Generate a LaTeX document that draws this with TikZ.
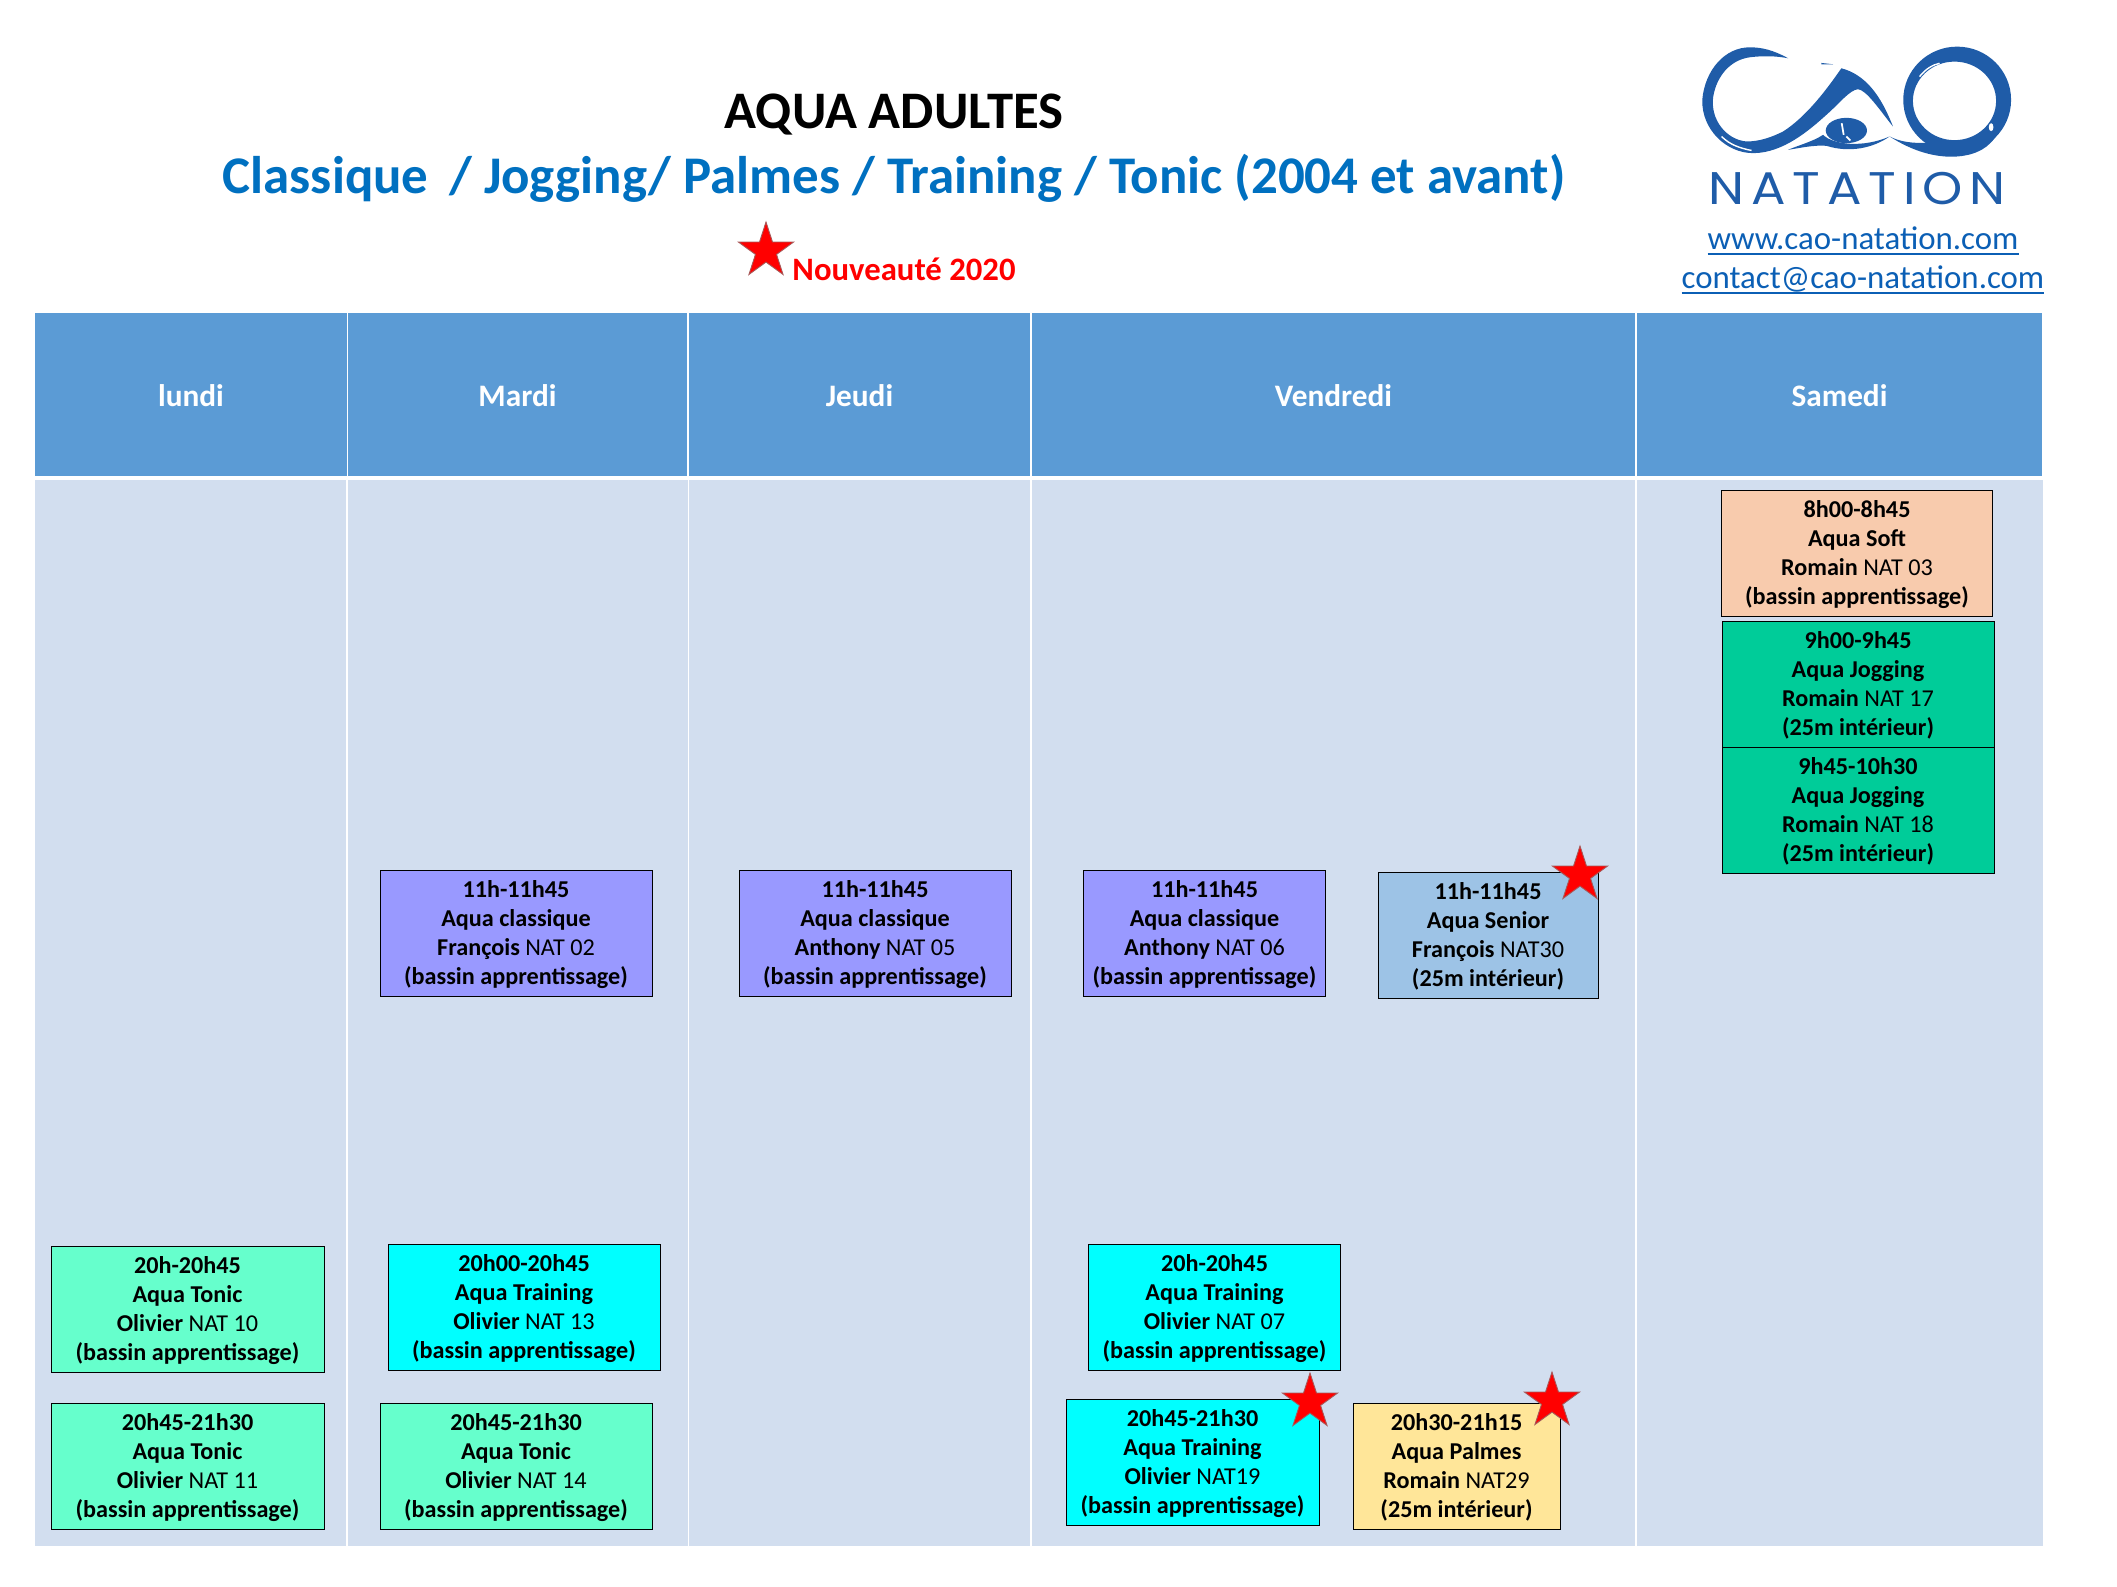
\documentclass[tikz,border=0pt]{standalone}
\usepackage{fontspec}
\setmainfont{Carlito}
\newfontfamily\logofont[LetterSpace=15,FakeStretch=1.12]{Poppins}
\usetikzlibrary{shapes.geometric}
\definecolor{headerblue}{HTML}{5B9BD5}
\definecolor{bodyblue}{HTML}{D2DEEF}
\definecolor{titleblue}{HTML}{0070C0}
\definecolor{linkblue}{HTML}{0B5FB5}
\definecolor{logoblue}{HTML}{1F5CA8}
\definecolor{mauvebox}{HTML}{9999FF}
\definecolor{aquabox}{HTML}{00FFFF}
\definecolor{mintbox}{HTML}{66FFCC}
\definecolor{greenbox}{HTML}{00CC99}
\definecolor{peachbox}{HTML}{F8CBAD}
\definecolor{seniorbox}{HTML}{9DC3E6}
\definecolor{yellowbox}{HTML}{FFE699}
\newcommand{\seance}[5]{\rule{0pt}{5.5pt}\textbf{#1}\\\textbf{#2}\\\textbf{#3} #4\\\textbf{#5}}
\tikzset{
    daycell/.style={fill=headerblue, text=white, inner sep=0pt, minimum height=1.63cm, font=\fontsize{8.9}{10}\selectfont\bfseries},
    seancebox/.style={draw=black, line width=0.25pt, align=center, inner sep=0pt, minimum height=1.26cm, font=\fontsize{6.88}{8.25}\selectfont},
    newstar/.style={star, star points=5, star point ratio=2.618, fill=red, draw=gray!70!red, line width=0.25pt, inner sep=0pt, minimum size=0.58cm},
    weblink/.style={text=linkblue, anchor=base, inner sep=0pt, font=\fontsize{9.35}{11}\selectfont}
}

\begin{document}
\begin{tikzpicture}[x=0.01cm, y=-0.01cm]
    \useasboundingbox (0,0) rectangle (2117,1587);

    % Title
    \node[inner sep=0pt, font=\fontsize{15}{17}\selectfont\bfseries] (title) at (894,115) {AQUA ADULTES};
    \node[inner sep=0pt, text=titleblue, font=\fontsize{15.05}{17}\selectfont\bfseries] (subtitle) at (894,178.5) {Classique\, / Jogging/ Palmes / Training / Tonic (2004 et avant)};
    \node[newstar] (legendstar) at (766,251) {};
    \node[inner sep=0pt, text=red, font=\fontsize{9.3}{11}\selectfont\bfseries] (legend) at (904,269) {Nouveauté 2020};

    % Table
    \fill[bodyblue] (35,480) rectangle (2043,1546);
    \foreach \x/\w/\day in {191/312/lundi, 517.5/339/Mardi, 859.5/341/Jeudi, 1333.5/603/Vendredi, 1839.5/405/Samedi} {
        \node[daycell, minimum width=\w*0.01cm, text height=7pt] (day\day) at (\x,394.5) {\day};
    }
    \foreach \x in {347, 688.5, 1031, 1636} {
        \draw[white, line width=0.4pt] (\x,480) -- (\x,1546);
    }

    % Sessions
    \foreach \x/\y/\w/\col/\id/\txt in {
        187.5/1309.5/273/mintbox/lunA/{\seance{20h-20h45}{Aqua Tonic}{Olivier}{NAT 10}{(bassin apprentissage)}},
        187.5/1466/273/mintbox/lunB/{\seance{20h45-21h30}{Aqua Tonic}{Olivier}{NAT 11}{(bassin apprentissage)}},
        516/933/272/mauvebox/marA/{\seance{11h-11h45}{Aqua classique}{François}{NAT 02}{(bassin apprentissage)}},
        524/1307/272/aquabox/marB/{\seance{20h00-20h45}{Aqua Training}{Olivier}{NAT 13}{(bassin apprentissage)}},
        516/1466/272/mintbox/marC/{\seance{20h45-21h30}{Aqua Tonic}{Olivier}{NAT 14}{(bassin apprentissage)}},
        875/933/272/mauvebox/jeuA/{\seance{11h-11h45}{Aqua classique}{Anthony}{NAT 05}{(bassin apprentissage)}},
        1204.5/933/242/mauvebox/venA/{\seance{11h-11h45}{Aqua classique}{Anthony}{NAT 06}{(bassin apprentissage)}},
        1488/935.5/220/seniorbox/venB/{\seance{11h-11h45}{Aqua Senior}{François}{NAT30}{(25m intérieur)}},
        1214.5/1307/252/aquabox/venC/{\seance{20h-20h45}{Aqua Training}{Olivier}{NAT 07}{(bassin apprentissage)}},
        1192.5/1462/253/aquabox/venD/{\seance{20h45-21h30}{Aqua Training}{Olivier}{NAT19}{(bassin apprentissage)}},
        1456.5/1466/207/yellowbox/venE/{\seance{20h30-21h15}{Aqua Palmes}{Romain}{NAT29}{(25m intérieur)}},
        1857/553/271/peachbox/samA/{\seance{8h00-8h45}{Aqua Soft}{Romain}{NAT 03}{(bassin apprentissage)}},
        1858/684/272/greenbox/samB/{\seance{9h00-9h45}{Aqua Jogging}{Romain}{NAT 17}{(25m intérieur)}},
        1858/810/272/greenbox/samC/{\seance{9h45-10h30}{Aqua Jogging}{Romain}{NAT 18}{(25m intérieur)}}} {
        \node[seancebox, fill=\col, minimum width=\w*0.01cm] (\id) at (\x,\y) {\txt};
    }

    % New sessions
    \node[newstar] (starB) at (1580,875) {};
    \node[newstar] (starD) at (1310,1402) {};
    \node[newstar] (starE) at (1552,1401) {};

    % Logo, in crop units
    \begin{scope}[shift={(1650,20)}, x=0.003333cm, y=-0.003333cm]
        \fill[logoblue] (415,115) .. controls (370,90) and (335,82) .. (300,82)
            .. controls (225,82) and (165,150) .. (157,240)
            .. controls (155,330) and (230,400) .. (310,400)
            .. controls (400,400) and (480,330) .. (530,285)
            .. controls (570,250) and (600,210) .. (625,208)
            .. controls (650,210) and (690,270) .. (730,320)
            .. controls (695,230) and (650,165) .. (575,145)
            .. controls (530,210) and (470,290) .. (400,335)
            .. controls (360,355) and (325,365) .. (290,365)
            .. controls (230,360) and (180,300) .. (190,230)
            .. controls (200,170) and (240,120) .. (300,112)
            .. controls (340,107) and (380,108) .. (415,115) -- cycle;
        \fill[logoblue, even odd rule] (923,240) ellipse (162 and 160) (915,243) ellipse (125 and 118);
        \fill[logoblue] (720,350) .. controls (790,395) and (860,415) .. (925,410)
            .. controls (980,405) and (1020,385) .. (1045,340)
            .. controls (1000,345) and (950,375) .. (900,370)
            .. controls (840,365) and (780,380) .. (720,350) -- cycle;
        \fill[logoblue] (415,390) .. controls (450,375) and (490,365) .. (520,345)
            .. controls (550,375) and (640,385) .. (720,350)
            .. controls (670,385) and (600,400) .. (530,378)
            .. controls (490,375) and (450,385) .. (415,390) -- cycle;
        \fill[logoblue] (590,332) ellipse (62 and 38);
        \fill[logoblue] (515,129) -- (550,133) -- (515,133) -- cycle;
        \draw[white, line width=0.5pt] (576,310) -- (582,345) (590,350) -- (602,362);
        \draw[white, line width=0.4pt] (215,350) .. controls (240,375) and (270,385) .. (305,392);
        \draw[white, line width=0.4pt] (810,170) .. controls (830,145) and (850,135) .. (870,130);
        \fill[white] (1025,322) ellipse (7 and 12);
    \end{scope}
    \node[inner sep=0pt, text=logoblue, anchor=base, font=\fontsize{13}{15}\selectfont\logofont] (natation) at (1857,204) {NATATION};

    % Links
    \node[weblink] (siteweb) at (1863,249) {\underline{\smash{www.cao-natation.com}}};
    \node[weblink] (mail) at (1863,288) {\underline{\smash{contact@cao-natation.com}}};
\end{tikzpicture}
\end{document}
